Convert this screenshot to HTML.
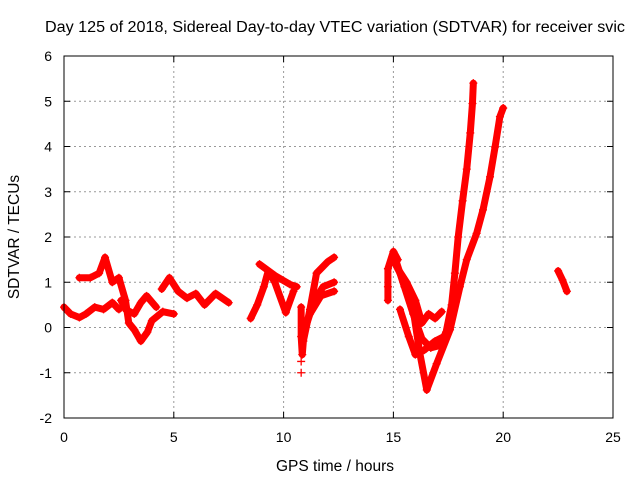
<!DOCTYPE html>
<html><head><meta charset="utf-8"><style>
body{margin:0;background:#fff}
svg{display:block;font-family:"Liberation Sans",sans-serif}
</style></head><body>
<svg id="chart" width="640" height="480">
<text x="45" y="32" font-size="15.5" textLength="580" lengthAdjust="spacingAndGlyphs">Day 125 of 2018, Sidereal Day-to-day VTEC variation (SDTVAR) for receiver svic</text>
<text x="335" y="471" font-size="15.5" text-anchor="middle">GPS time / hours</text>
<text transform="translate(19,237) rotate(-90)" font-size="15.5" text-anchor="middle">SDTVAR / TECUs</text>
<g id="grid"></g><g id="series"></g>
<rect x="64" y="56" width="549" height="362" fill="none" stroke="#000"/>
</svg>
<script>
const xTicks=[0,5,10,15,20,25];
const yTicks=[-2,-1,0,1,2,3,4,5,6];
const segA=[[0,0.45],[0.3,0.3],[0.7,0.22],[1.0,0.3],[1.4,0.45],[1.8,0.4],[2.2,0.55],[2.5,0.4]];
const segB=[[0.7,1.1],[1.2,1.1],[1.6,1.2],[1.87,1.55],[2.2,1.0],[2.5,1.1],[2.8,0.6],[2.95,0.1],[3.2,-0.05],[3.5,-0.3],[3.8,-0.1],[4.0,0.15],[4.5,0.35],[5.0,0.3]];
const segC=[[2.6,0.6],[2.8,0.4],[3.2,0.3],[3.5,0.55],[3.76,0.7],[4.2,0.45]];
const segD=[[4.45,0.85],[4.8,1.1],[5.2,0.8],[5.6,0.65],[6.0,0.75],[6.4,0.5],[6.9,0.75],[7.5,0.55]];
const segE=[[8.5,0.2],[8.8,0.5],[9.1,0.9],[9.3,1.25],[9.6,1.0],[10.1,0.33],[10.45,0.8]];
const segF=[[8.9,1.4],[9.6,1.15],[10.3,0.95],[10.6,0.9]];
const segG=[[10.8,0.45],[10.8,-0.2],[10.85,-0.6],[10.9,-0.3],[11.2,0.4],[11.5,1.2],[12.0,1.45],[12.3,1.55]];
const segH=[[11.0,0.0],[11.4,0.6],[11.8,0.9],[12.3,1.0]];
const segI=[[11.2,0.3],[11.7,0.7],[12.3,0.8]];
const segJ=[[10.8,-0.75],[10.8,-1.0]];
const segK=[[14.75,0.6],[14.75,0.9],[14.75,1.3],[15.0,1.68],[15.2,1.5]];
const segL=[[15.0,1.5],[15.5,1.0],[15.9,0.39],[16.2,-0.56],[16.52,-1.38],[16.97,-0.8],[17.58,-0.05],[18.03,0.9],[18.34,1.5],[18.79,2.08],[19.08,2.6],[19.4,3.33],[19.63,3.99],[19.85,4.66],[20.0,4.85]];
const segM=[[15.1,1.5],[15.5,0.9],[15.9,0.3],[16.3,-0.25],[16.7,-0.45],[17.1,-0.4],[17.4,-0.1],[17.65,0.5],[17.8,1.2],[17.95,2.0],[18.15,2.8],[18.34,3.5],[18.5,4.3],[18.6,4.95],[18.64,5.4]];
const segN=[[15.3,0.4],[15.7,-0.2],[16.0,-0.6],[16.4,-0.5],[16.9,-0.3],[17.3,-0.2]];
const segO=[[15.2,1.3],[15.6,1.0],[16.0,0.6],[16.3,0.1],[16.6,0.3],[16.9,0.2],[17.2,0.35]];
const segP=[[22.5,1.25],[22.7,1.05],[22.9,0.8]];
const allSegs=[segA,segB,segC,segD,segE,segF,segG,segH,segI,segJ,segK,segL,segM,segN,segO,segP];
const NS="http://www.w3.org/2000/svg";
const X=h=>64+h*549/25, Y=v=>418-(v+2)*362/8;
const grid=document.getElementById('grid'), ser=document.getElementById('series');
function mk(t,a,p){const e=document.createElementNS(NS,t);for(const k in a)e.setAttribute(k,a[k]);p.appendChild(e);return e;}
xTicks.forEach(t=>{
  if(t>0&&t<25){const g=mk('line',{x1:X(t),x2:X(t),y1:56,y2:418,stroke:'#999','stroke-dasharray':'2,3'},grid);
  
  }
  mk('line',{x1:X(t),x2:X(t),y1:418,y2:412,stroke:'#000'},grid);
  mk('line',{x1:X(t),x2:X(t),y1:56,y2:62,stroke:'#000'},grid);
  const l=mk('text',{x:X(t),y:442,'font-size':14,'text-anchor':'middle'},grid);l.textContent=t;
  
  
});
yTicks.forEach(t=>{
  if(t>-2&&t<6){const g=mk('line',{x1:64,x2:613,y1:Y(t),y2:Y(t),stroke:'#999','stroke-dasharray':'2,3'},grid);
  
  }
  mk('line',{x1:64,x2:70,y1:Y(t),y2:Y(t),stroke:'#000'},grid);
  mk('line',{x1:607,x2:613,y1:Y(t),y2:Y(t),stroke:'#000'},grid);
  const l=mk('text',{x:52,y:Y(t)+5,'font-size':14,'text-anchor':'end'},grid);l.textContent=t;
  
  
});
allSegs.forEach(s=>{
  if(s.length>1&&s!==segJ){
    const pl=mk('polyline',{points:s.map(p=>X(p[0])+','+Y(p[1])).join(' '),fill:'none',stroke:'#f00','stroke-width':7,'stroke-linejoin':'round','stroke-linecap':'round'},ser);
    
    
  }
  s.forEach(p=>{
    const x=X(p[0]),y=Y(p[1]);
    const m=mk('path',{d:`M${x-4},${y}H${x+4}M${x},${y-4}V${y+4}`,stroke:'#f00','stroke-width':1.3},ser);
    
    
  });
});
</script>
</body></html>
